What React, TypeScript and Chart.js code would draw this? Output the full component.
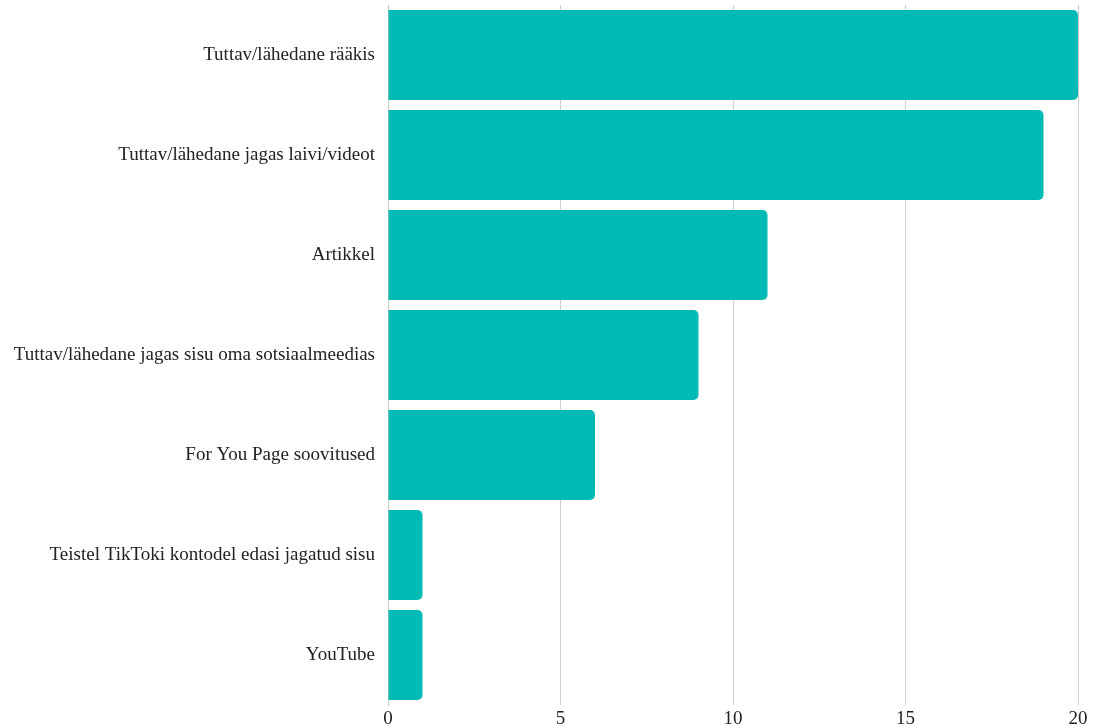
import React, { useEffect, useRef } from "react";
import { Chart, registerables } from "chart.js";

Chart.register(...registerables);

const categories = [
  "Tuttav/lähedane rääkis",
  "Tuttav/lähedane jagas laivi/videot",
  "Artikkel",
  "Tuttav/lähedane jagas sisu oma sotsiaalmeedias",
  "For You Page soovitused",
  "Teistel TikToki kontodel edasi jagatud sisu",
  "YouTube",
];
const values = [20, 19, 11, 9, 6, 1, 1];
const xTicks = [0, 5, 10, 15, 20];

export default function App() {
  const ref = useRef<HTMLCanvasElement | null>(null);
  useEffect(() => {
    if (!ref.current) return;
    const font = { family: "'Liberation Serif', 'Times New Roman', serif", size: 19 };
    const chart = new Chart(ref.current, {
      type: "bar",
      data: {
        labels: categories,
        datasets: [
          {
            data: values,
            backgroundColor: "#00BAB5",
            borderRadius: 5,
            borderSkipped: "start",
            categoryPercentage: 1,
            barPercentage: 0.9,
          },
        ],
      },
      options: {
        indexAxis: "y",
        animation: false,
        responsive: false,
        maintainAspectRatio: false,
        layout: { padding: { top: 5, right: 16, bottom: 0, left: 0 } },
        plugins: { legend: { display: false }, tooltip: { enabled: false } },
        scales: {
          x: {
            min: 0,
            max: 20,
            afterBuildTicks: (scale: any) => {
              scale.ticks = xTicks.map((v) => ({ value: v }));
            },
            grid: { color: "#d0d0d0", lineWidth: 1, drawTicks: false },
            border: { display: false },
            ticks: { color: "#222", font, padding: 3 },
            afterFit: (scale: any) => {
              scale.height = 23;
            },
          },
          y: {
            grid: { display: false, drawTicks: false },
            border: { display: true, color: "#c8c8c8" },
            ticks: { color: "#222", font, padding: 13 },
            afterFit: (scale: any) => {
              scale.width = 388;
              scale.paddingTop = 0;
              scale.paddingBottom = 0;
            },
          },
        },
      },
    });
    return () => chart.destroy();
  }, []);
  return (
    <div style={{ position: "absolute", left: 0, top: 0, width: 1094, height: 728, background: "#fff" }}>
      <canvas ref={ref} width={1094} height={728} />
    </div>
  );
}
